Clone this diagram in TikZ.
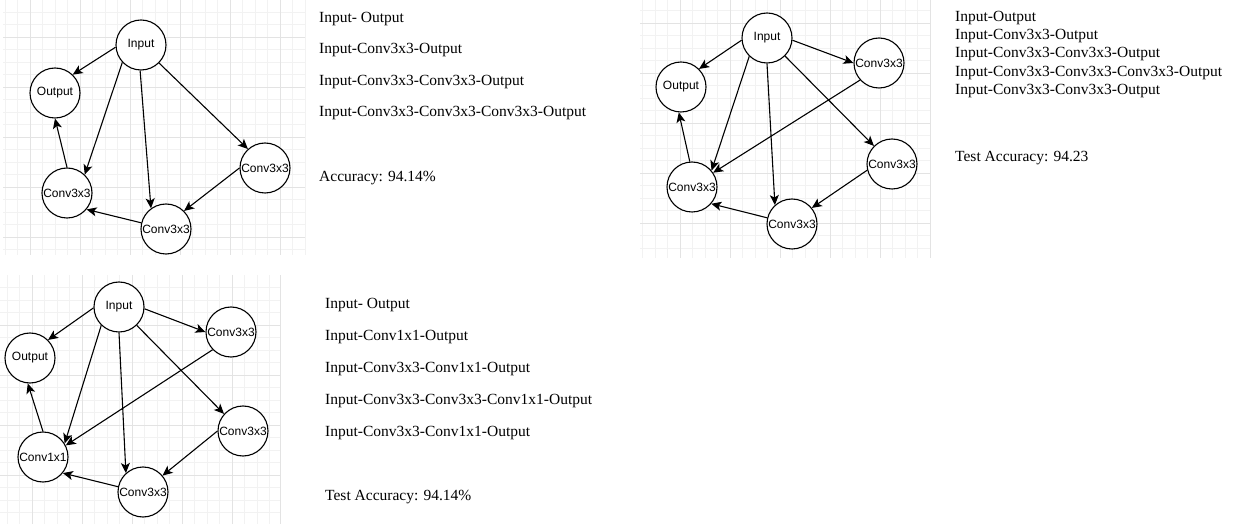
\documentclass[tikz,border=0pt]{standalone}
\usepackage{fontspec}
\setmainfont{Liberation Serif}
\newfontfamily\opfont{Liberation Sans}
\usetikzlibrary{arrows.meta,positioning}

\tikzset{
	op/.style={circle, draw, fill=white, line width=1.1pt,
		minimum size=50pt, inner sep=0pt,
		label={[font=\opfont\fontsize{12}{12}\selectfont, inner sep=0pt]center:#1}},
	conn/.style={-{Stealth[length=10pt,width=9pt,inset=2.5pt]}, line width=1.1pt},
	txtline/.style={anchor=base west, inner sep=0pt,
		font=\fontsize{15.5}{18}\selectfont},
	minorgrid/.style={draw=black!5, line width=0.7pt},
	majorgrid/.style={draw=black!11, line width=0.8pt}
}

\begin{document}
\begin{tikzpicture}[x=1pt,y=-1pt]
	\useasboundingbox (0,0) rectangle (1242,526);
	% grid behind the first graph
	\foreach \gx in {5,17.5,...,305} \draw[minorgrid] (\gx,0) -- (\gx,255);
	\foreach \gy in {12,24.5,...,255} \draw[minorgrid] (3,\gy) -- (305,\gy);
	\foreach \gx in {30,80,...,280} \draw[majorgrid] (\gx,0) -- (\gx,255);
	\foreach \gy in {37,87,...,237} \draw[majorgrid] (3,\gy) -- (305,\gy);
	% grid behind the second graph
	\foreach \gx in {642.5,655,...,930} \draw[minorgrid] (\gx,0) -- (\gx,258);
	\foreach \gy in {10.5,23,...,258} \draw[minorgrid] (640,\gy) -- (930,\gy);
	\foreach \gx in {680,730,...,930} \draw[majorgrid] (\gx,0) -- (\gx,258);
	\foreach \gy in {23,73,...,223} \draw[majorgrid] (640,\gy) -- (930,\gy);
	% grid behind the third graph
	\foreach \gx in {7,19.5,...,280} \draw[minorgrid] (\gx,275) -- (\gx,524);
	\foreach \gy in {287.5,300,...,524} \draw[minorgrid] (0,\gy) -- (280,\gy);
	\foreach \gx in {32,82,...,232} \draw[majorgrid] (\gx,275) -- (\gx,524);
	\draw[majorgrid] (280,275) -- (280,524);
	\foreach \gy in {325,375,...,475} \draw[majorgrid] (0,\gy) -- (280,\gy);

	% first graph
	\node[op=Input] (in1) at (141,45) {};
	\node[op=Output] (out1) at (55,93) {};
	\node[op=Conv3x3] (cl1) at (67,193) {};
	\node[op=Conv3x3] (cr1) at (265,168) {};
	\node[op=Conv3x3] (cb1) at (166,229) {};
	\path (in1.185) edge[conn] (out1.46)
	(in1.223) edge[conn] (cl1.46)
	(in1.268) edge[conn] (cb1.126)
	(in1.315) edge[conn] (cr1.132)
	(cr1.180) edge[conn] (cb1.45)
	(cb1.166) edge[conn] (cl1.320)
	(cl1.90) edge[conn] (out1.270);
	\node[txtline] (t1a) at (319,23) {Input- Output};
	\node[txtline] (t1b) at (319,54) {Input-Conv3x3-Output};
	\node[txtline] (t1c) at (319,86) {Input-Conv3x3-Conv3x3-Output};
	\node[txtline] (t1d) at (319,117) {Input-Conv3x3-Conv3x3-Conv3x3-Output};
	\node[txtline] (t1e) at (319,182) {Accuracy: 94.14\%};

	% second graph
	\node[op=Input] (in2) at (767,38) {};
	\node[op=Output] (out2) at (681,87) {};
	\node[op=Conv3x3] (ct2) at (879,63) {};
	\node[op=Conv3x3] (cr2) at (892,164) {};
	\node[op=Conv3x3] (cb2) at (792,224) {};
	\node[op=Conv3x3] (cl2) at (692,187) {};
	\path (in2.185) edge[conn] (out2.45)
	(in2.355) edge[conn] (ct2.180)
	(in2.226) edge[conn] (cl2.40)
	(in2.270) edge[conn] (cb2.132)
	(in2.315) edge[conn] (cr2.135)
	(ct2.222) edge[conn] (cl2.34)
	(cr2.194) edge[conn] (cb2.39)
	(cb2.166) edge[conn] (cl2.319)
	(cl2.95) edge[conn] (out2.265);
	\node[txtline] (t2a) at (955,22) {Input-Output};
	\node[txtline] (t2b) at (955,40) {Input-Conv3x3-Output};
	\node[txtline] (t2c) at (955,58) {Input-Conv3x3-Conv3x3-Output};
	\node[txtline] (t2d) at (955,77) {Input-Conv3x3-Conv3x3-Conv3x3-Output};
	\node[txtline] (t2e) at (955,95) {Input-Conv3x3-Conv3x3-Output};
	\node[txtline] (t2f) at (955,162) {Test Accuracy: 94.23};

	% third graph
	\node[op=Input] (in3) at (119,307) {};
	\node[op=Output] (out3) at (30,358) {};
	\node[op=Conv3x3] (ct3) at (231,332) {};
	\node[op=Conv3x3] (cr3) at (243,431) {};
	\node[op=Conv3x3] (cb3) at (143,492) {};
	\node[op=Conv1x1] (cl3) at (43,457) {};
	\path (in3.182) edge[conn] (out3.45)
	(in3.356) edge[conn] (ct3.180)
	(in3.226) edge[conn] (cl3.32)
	(in3.270) edge[conn] (cb3.132)
	(in3.314) edge[conn] (cr3.138)
	(ct3.224) edge[conn] (cl3.27)
	(cr3.180) edge[conn] (cb3.40)
	(cb3.168) edge[conn] (cl3.321)
	(cl3.90) edge[conn] (out3.265);
	\node[txtline] (t3a) at (325,309) {Input- Output};
	\node[txtline] (t3b) at (325,341) {Input-Conv1x1-Output};
	\node[txtline] (t3c) at (325,373) {Input-Conv3x3-Conv1x1-Output};
	\node[txtline] (t3d) at (325,404) {Input-Conv3x3-Conv3x3-Conv1x1-Output};
	\node[txtline] (t3e) at (325,436) {Input-Conv3x3-Conv1x1-Output};
	\node[txtline] (t3f) at (325,500) {Test Accuracy: 94.14\%};
\end{tikzpicture}
\end{document}
